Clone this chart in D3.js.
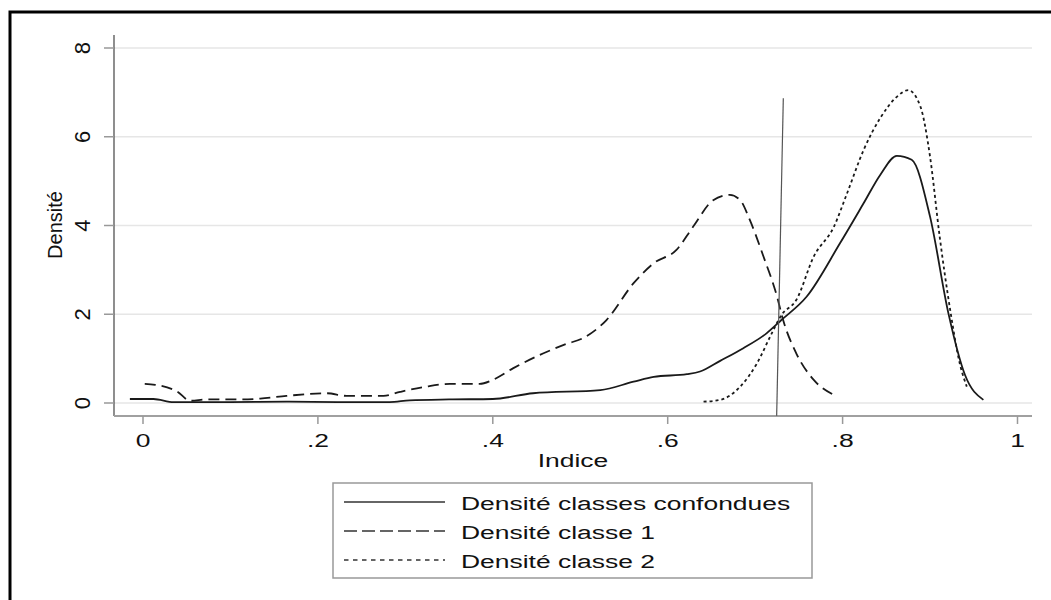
<!DOCTYPE html>
<html>
<head>
<meta charset="utf-8">
<script src="https://cdn.jsdelivr.net/npm/d3@7"></script>
<style>
  html, body { margin: 0; padding: 0; background: #fff; }
  svg { display: block; }
  text { font-family: "Liberation Sans", Arial, sans-serif; fill: #111; }
</style>
</head>
<body>
<svg id="chart" width="1051" height="600"></svg>
<script>
// ---- Data ----
const xTicks = [0, 0.2, 0.4, 0.6, 0.8, 1];
const xTickLabels = ["0", ".2", ".4", ".6", ".8", "1"];
const yTicks = [0, 2, 4, 6, 8];
const yTickLabels = ["0", "2", "4", "6", "8"];
const xTitle = "Indice";
const yTitle = "Densité";
const legendLabels = ["Densité classes confondues", "Densité classe 1", "Densité classe 2"];

const densAll = [[-0.015,0.09],[0.012,0.09],[0.035,0.02],[0.1,0.02],[0.164,0.03],[0.225,0.02],[0.282,0.02],[0.305,0.06],[0.35,0.08],[0.4,0.09],[0.446,0.22],[0.523,0.29],[0.561,0.48],[0.584,0.59],[0.622,0.65],[0.637,0.71],[0.66,0.95],[0.686,1.23],[0.713,1.57],[0.73,1.87],[0.759,2.40],[0.797,3.60],[0.824,4.50],[0.843,5.14],[0.862,5.57],[0.879,5.48],[0.9,4.20],[0.921,2.02],[0.94,0.63],[0.961,0.07]];
const densC1 = [[0.002,0.43],[0.014,0.41],[0.039,0.26],[0.054,0.05],[0.073,0.08],[0.115,0.08],[0.134,0.1],[0.164,0.16],[0.21,0.22],[0.233,0.16],[0.275,0.16],[0.294,0.25],[0.324,0.37],[0.351,0.43],[0.385,0.43],[0.4,0.52],[0.423,0.78],[0.458,1.12],[0.484,1.33],[0.503,1.46],[0.53,1.87],[0.561,2.70],[0.584,3.15],[0.61,3.45],[0.629,3.97],[0.652,4.57],[0.671,4.69],[0.683,4.57],[0.694,4.12],[0.709,3.33],[0.725,2.40],[0.732,1.87],[0.747,1.12],[0.767,0.52],[0.79,0.18]];
const densC2 = [[0.641,0.03],[0.66,0.07],[0.683,0.37],[0.702,0.89],[0.719,1.57],[0.73,1.98],[0.747,2.32],[0.767,3.30],[0.79,3.97],[0.805,4.72],[0.824,5.70],[0.843,6.42],[0.862,6.90],[0.875,7.05],[0.889,6.68],[0.9,5.55],[0.911,3.75],[0.923,2.10],[0.934,0.89],[0.942,0.37]];
const cutLine = [[0.7322,6.87],[0.7246,-0.29]];

// ---- Layout ----
const svg = d3.select("#chart");
const SX = 1.47, HFS = 18, VFS = 20, YTFS = 22;
const x = d3.scaleLinear().domain([0, 1]).range([143, 1017.5]);
const y = d3.scaleLinear().domain([0, 8]).range([403, 48]);
const plotL = 114, plotR = 1032, axisY = 416, axisTop = 35;

// outer frame
svg.append("rect").attr("x", 10).attr("y", 12).attr("width", 1100).attr("height", 700)
  .attr("fill", "none").attr("stroke", "#000").attr("stroke-width", 3);

// grid
svg.append("g").selectAll("line").data(yTicks).join("line")
  .attr("x1", plotL).attr("x2", plotR).attr("y1", d => y(d)).attr("y2", d => y(d))
  .attr("stroke", "#e6e6e6").attr("stroke-width", 1.5);

// axes lines
svg.append("line").attr("x1", plotL).attr("x2", plotL).attr("y1", axisTop).attr("y2", axisY)
  .attr("stroke", "#444").attr("stroke-width", 1.2);
svg.append("line").attr("x1", plotL).attr("x2", plotR).attr("y1", axisY).attr("y2", axisY)
  .attr("stroke", "#a0a0a0").attr("stroke-width", 2);

// y ticks + labels
svg.append("g").selectAll("line").data(yTicks).join("line")
  .attr("x1", 104).attr("x2", plotL).attr("y1", d => y(d)).attr("y2", d => y(d))
  .attr("stroke", "#999").attr("stroke-width", 1.5);
svg.append("g").selectAll("text").data(yTicks).join("text")
  .attr("transform", d => `translate(90,${y(d)}) rotate(-90)`)
  .attr("text-anchor", "middle").attr("font-size", YTFS)
  .text((d, i) => yTickLabels[i]);

// x ticks + labels
svg.append("g").selectAll("line").data(xTicks).join("line")
  .attr("x1", d => x(d)).attr("x2", d => x(d)).attr("y1", axisY).attr("y2", 424)
  .attr("stroke", "#999").attr("stroke-width", 1.5);
svg.append("g").selectAll("text").data(xTicks).join("text")
  .attr("transform", d => `translate(${x(d)},447) scale(${SX},1)`)
  .attr("text-anchor", "middle").attr("font-size", HFS)
  .text((d, i) => xTickLabels[i]);

// axis titles
svg.append("text").attr("transform", `translate(62,225) rotate(-90)`)
  .attr("text-anchor", "middle").attr("font-size", VFS).text(yTitle);
svg.append("text").attr("transform", `translate(573,467) scale(${SX},1)`)
  .attr("text-anchor", "middle").attr("font-size", HFS).text(xTitle);

// curves
const line = d3.line().x(d => x(d[0])).y(d => y(d[1])).curve(d3.curveMonotoneX);
const styles = [
  { data: densAll, dash: null, legDash: null },
  { data: densC1, dash: "11,6", legDash: "13,5" },
  { data: densC2, dash: "3,3", legDash: "4.5,4.5" }
];
svg.append("g").selectAll("path").data(styles).join("path")
  .attr("d", s => line(s.data))
  .attr("fill", "none").attr("stroke", "#1a1a1a").attr("stroke-width", 1.8)
  .attr("stroke-dasharray", s => s.dash);

// vertical cut line
svg.append("path").attr("d", d3.line().x(d => x(d[0])).y(d => y(d[1]))(cutLine))
  .attr("fill", "none").attr("stroke", "#555").attr("stroke-width", 1.2);

// legend
const lg = svg.append("g");
lg.append("rect").attr("x", 333).attr("y", 483).attr("width", 479).attr("height", 95)
  .attr("fill", "#fff").attr("stroke", "#999").attr("stroke-width", 1.5);
const rowsY = [502, 531, 560];
lg.selectAll("line").data(styles).join("line")
  .attr("x1", 344).attr("x2", 445).attr("y1", (d, i) => rowsY[i]).attr("y2", (d, i) => rowsY[i])
  .attr("stroke", "#333").attr("stroke-width", 1.6)
  .attr("stroke-dasharray", s => s.legDash);
lg.selectAll("text").data(legendLabels).join("text")
  .attr("transform", (d, i) => `translate(461,${rowsY[i] + 8}) scale(${SX},1)`)
  .attr("font-size", HFS).text(d => d);
</script>
</body>
</html>
